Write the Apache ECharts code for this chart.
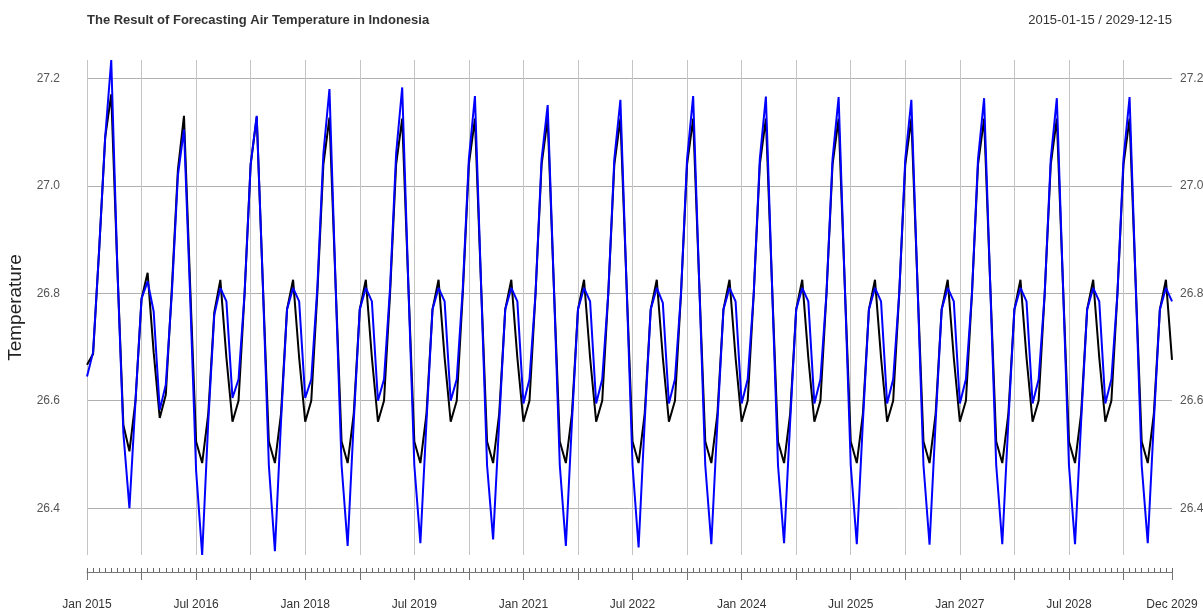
<!DOCTYPE html>
<html>
<head>
<meta charset="utf-8">
<title>Air Temperature Forecast - Indonesia</title>
<script src="https://cdn.jsdelivr.net/npm/echarts@6.0.0/dist/echarts.min.js"></script>
<style>
  html, body { margin: 0; padding: 0; background: #fff; }
  #chart { width: 1203px; height: 613px; }
</style>
</head>
<body>
<div id="chart"></div>
<script>
// monthly values, one row per year (Jan..Dec), 2015 - 2029
const seriesBlack = [
  [26.667, 26.687, 26.88, 27.09, 27.17, 26.85, 26.555, 26.506, 26.60, 26.79, 26.838, 26.69],  // 2015
  [26.568, 26.611, 26.81, 27.03, 27.13, 26.82, 26.524, 26.484, 26.575, 26.765, 26.825, 26.68], // 2016
  [26.561, 26.600, 26.80, 27.04, 27.128, 26.82, 26.524, 26.484, 26.575, 26.77, 26.825, 26.68], // 2017
  [26.561, 26.600, 26.80, 27.04, 27.127, 26.82, 26.524, 26.484, 26.575, 26.77, 26.825, 26.68], // 2018
  [26.561, 26.600, 26.80, 27.04, 27.125, 26.82, 26.524, 26.484, 26.575, 26.77, 26.825, 26.68], // 2019
  [26.561, 26.600, 26.80, 27.04, 27.125, 26.82, 26.524, 26.484, 26.575, 26.77, 26.825, 26.68], // 2020
  [26.561, 26.600, 26.80, 27.04, 27.125, 26.82, 26.524, 26.484, 26.575, 26.77, 26.825, 26.68], // 2021
  [26.561, 26.600, 26.80, 27.04, 27.125, 26.82, 26.524, 26.484, 26.575, 26.77, 26.825, 26.68], // 2022
  [26.561, 26.600, 26.80, 27.04, 27.125, 26.82, 26.524, 26.484, 26.575, 26.77, 26.825, 26.68], // 2023
  [26.561, 26.600, 26.80, 27.04, 27.125, 26.82, 26.524, 26.484, 26.575, 26.77, 26.825, 26.68], // 2024
  [26.561, 26.600, 26.80, 27.04, 27.125, 26.82, 26.524, 26.484, 26.575, 26.77, 26.825, 26.68], // 2025
  [26.561, 26.600, 26.80, 27.04, 27.125, 26.82, 26.524, 26.484, 26.575, 26.77, 26.825, 26.68], // 2026
  [26.561, 26.600, 26.80, 27.04, 27.125, 26.82, 26.524, 26.484, 26.575, 26.77, 26.825, 26.68], // 2027
  [26.561, 26.600, 26.80, 27.04, 27.125, 26.82, 26.524, 26.484, 26.575, 26.77, 26.825, 26.68], // 2028
  [26.561, 26.600, 26.80, 27.04, 27.125, 26.82, 26.524, 26.484, 26.575, 26.77, 26.825, 26.676] // 2029
];

const seriesBlue = [
  [26.645, 26.69, 26.88, 27.09, 27.234, 26.85, 26.54, 26.40, 26.60, 26.79, 26.822, 26.766],   // 2015
  [26.583, 26.63, 26.80, 27.02, 27.105, 26.80, 26.47, 26.313, 26.56, 26.76, 26.81, 26.785],   // 2016
  [26.605, 26.64, 26.80, 27.04, 27.13, 26.82, 26.48, 26.32, 26.56, 26.77, 26.81, 26.785],     // 2017
  [26.605, 26.64, 26.81, 27.06, 27.18, 26.82, 26.48, 26.33, 26.56, 26.77, 26.81, 26.785],     // 2018
  [26.600, 26.64, 26.81, 27.06, 27.183, 26.82, 26.48, 26.335, 26.56, 26.77, 26.81, 26.785],   // 2019
  [26.600, 26.64, 26.81, 27.05, 27.167, 26.82, 26.48, 26.342, 26.56, 26.77, 26.81, 26.785],   // 2020
  [26.595, 26.64, 26.80, 27.05, 27.15, 26.82, 26.48, 26.33, 26.56, 26.77, 26.81, 26.785],     // 2021
  [26.595, 26.64, 26.80, 27.05, 27.16, 26.82, 26.48, 26.327, 26.56, 26.77, 26.81, 26.782],    // 2022
  [26.595, 26.64, 26.80, 27.05, 27.167, 26.82, 26.48, 26.333, 26.56, 26.77, 26.81, 26.785],   // 2023
  [26.595, 26.64, 26.80, 27.05, 27.166, 26.82, 26.48, 26.335, 26.56, 26.77, 26.81, 26.785],   // 2024
  [26.595, 26.64, 26.80, 27.05, 27.165, 26.82, 26.48, 26.333, 26.56, 26.77, 26.81, 26.785],   // 2025
  [26.595, 26.64, 26.80, 27.05, 27.16, 26.82, 26.48, 26.332, 26.56, 26.77, 26.81, 26.785],    // 2026
  [26.595, 26.64, 26.80, 27.05, 27.163, 26.82, 26.48, 26.333, 26.56, 26.77, 26.81, 26.785],   // 2027
  [26.595, 26.64, 26.80, 27.05, 27.163, 26.82, 26.48, 26.333, 26.56, 26.77, 26.81, 26.785],   // 2028
  [26.595, 26.64, 26.80, 27.05, 27.165, 26.82, 26.48, 26.335, 26.56, 26.77, 26.81, 26.785]    // 2029
];

const monthNames = ['Jan', 'Feb', 'Mar', 'Apr', 'May', 'Jun', 'Jul', 'Aug', 'Sep', 'Oct', 'Nov', 'Dec'];
const years = [2015, 2016, 2017, 2018, 2019, 2020, 2021, 2022, 2023, 2024, 2025, 2026, 2027, 2028, 2029];
const yTicks = [26.4, 26.6, 26.8, 27.0, 27.2];

// category labels: "Jan 2015" ... "Dec 2029"
const categories = [];
years.forEach((y) => {
  monthNames.forEach((m) => categories.push(m + ' ' + y));
});
const lastIdx = categories.length - 1;

const chart = echarts.init(document.getElementById('chart'));

chart.setOption({
  animation: false,
  backgroundColor: '#ffffff',
  textStyle: { fontFamily: 'Liberation Sans, Arial, sans-serif' },
  title: [
    {
      text: 'The Result of Forecasting Air Temperature in Indonesia',
      left: 87,
      top: 14,
      padding: 0,
      textStyle: { fontSize: 13, fontWeight: 'bold', color: '#333' }
    },
    {
      text: '2015-01-15 / 2029-12-15',
      right: 31,
      top: 14,
      padding: 0,
      textStyle: { fontSize: 13, fontWeight: 'normal', color: '#333' }
    }
  ],
  grid: { left: 87, right: 31, top: 60, bottom: 58, outerBoundsMode: 'none' },
  xAxis: [
    {
      type: 'category',
      data: categories,
      boundaryGap: false,
      position: 'bottom',
      offset: 17,
      axisLine: { lineStyle: { color: '#777', width: 1 } },
      axisTick: { interval: 0, inside: true, length: 4, lineStyle: { color: '#666' } },
      axisLabel: {
        interval: (i) => i % 18 === 0 || i === lastIdx,
        margin: 27,
        fontSize: 12,
        color: '#333'
      },
      splitLine: {
        show: true,
        interval: (i) => i % 9 === 0,
        lineStyle: { color: '#c4c4c4', width: 1 }
      }
    },
    {
      // longer ticks every 9 months
      type: 'category',
      data: categories,
      boundaryGap: false,
      position: 'bottom',
      offset: 17,
      axisLine: { show: false },
      axisTick: { interval: (i) => i % 9 === 0 || i === lastIdx, length: 8, lineStyle: { color: '#777' } },
      axisLabel: { show: false },
      splitLine: { show: false }
    }
  ],
  yAxis: [
    {
      type: 'value',
      position: 'left',
      min: 26.313,
      max: 27.234,
      name: 'Temperature',
      nameLocation: 'middle',
      nameGap: 60,
      nameTextStyle: { fontSize: 19, color: '#222' },
      axisLine: { show: false },
      axisTick: { show: false, customValues: yTicks },
      axisLabel: {
        customValues: yTicks,
        margin: 27,
        fontSize: 12,
        color: '#555',
        formatter: (v) => v.toFixed(1)
      },
      splitLine: { show: true, lineStyle: { color: '#b0b0b0', width: 1 } }
    },
    {
      type: 'value',
      position: 'right',
      min: 26.313,
      max: 27.234,
      axisLine: { show: false },
      axisTick: { show: false, customValues: yTicks },
      axisLabel: {
        customValues: yTicks,
        margin: 8,
        fontSize: 12,
        color: '#555',
        formatter: (v) => v.toFixed(1)
      },
      splitLine: { show: false }
    }
  ],
  series: [
    {
      name: 'black',
      type: 'line',
      data: seriesBlack.flat(),
      symbol: 'none',
      lineStyle: { color: '#000000', width: 2 },
      itemStyle: { color: '#000000' },
      z: 2
    },
    {
      name: 'blue',
      type: 'line',
      data: seriesBlue.flat(),
      symbol: 'none',
      lineStyle: { color: '#0000ff', width: 2 },
      itemStyle: { color: '#0000ff' },
      z: 3
    }
  ]
});
</script>
</body>
</html>
